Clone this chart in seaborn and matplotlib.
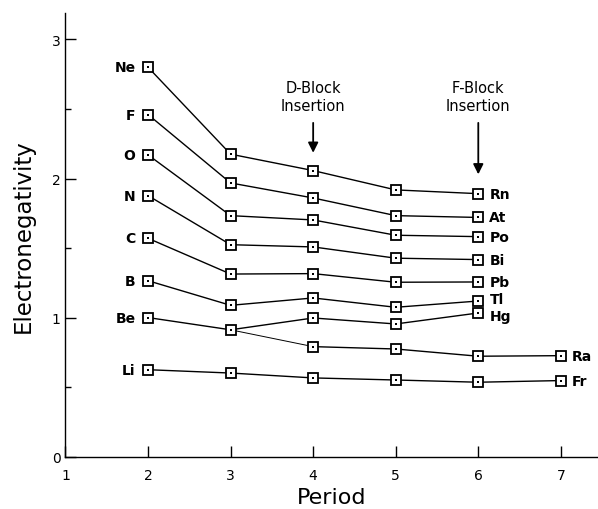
"""
Electronegativity trends by period, with D- and F-block insertion markers.
"""
import matplotlib
matplotlib.use("Agg")
import numpy as np
import pandas as pd
import matplotlib.pyplot as plt
import seaborn as sns

# Group series
ne_rn = [2.80, 2.175, 2.057, 1.918, 1.891]
f_at = [2.46, 1.968, 1.860, 1.733, 1.720]
o_po = [2.17, 1.733, 1.702, 1.592, 1.582]
n_bi = [1.877, 1.524, 1.508, 1.427, 1.417]
c_pb = [1.57, 1.313, 1.316, 1.254, 1.256]
b_tl = [1.265, 1.088, 1.141, 1.074, 1.119]
be_hg = [1.00, 0.912, 0.997, 0.954, 1.033]
ca_ra = [0.791, 0.774, 0.722, 0.726]
li_fr = [0.625, 0.601, 0.566, 0.551, 0.535, 0.547]

p_2to6 = [2, 3, 4, 5, 6]
p_4to7 = [4, 5, 6, 7]
p_2to7 = [2, 3, 4, 5, 6, 7]

series_names = ["Ne-Rn", "F-At", "O-Po", "N-Bi", "C-Pb", "B-Tl", "Be-Hg", "Ca-Ra", "Li-Fr"]
series_values = [ne_rn, f_at, o_po, n_bi, c_pb, b_tl, be_hg, ca_ra, li_fr]
series_periods = [p_2to6, p_2to6, p_2to6, p_2to6, p_2to6, p_2to6, p_2to6, p_4to7, p_2to7]

left_labels = ["Ne", "F", "O", "N", "C", "B", "Be", None, "Li"]
right_labels = ["Rn", "At", "Po", "Bi", "Pb", "Tl", "Hg", "Ra", "Fr"]
# small vertical nudges (points) so the crowded right labels don't collide
right_nudge = [0, 0, 0, 0, 0, 1.5, -2.5, 0, 0]

rows = []
for name, per, vals in zip(series_names, series_periods, series_values):
    for p, v in zip(per, vals):
        rows.append({"series": name, "period": p, "en": v})
df = pd.DataFrame(rows)

sns.set_style("ticks")
plt.rcParams["font.family"] = ["DejaVu Sans"]
plt.rcParams["text.color"] = "black"
plt.rcParams["axes.labelcolor"] = "black"
plt.rcParams["xtick.color"] = "black"
plt.rcParams["ytick.color"] = "black"

fig = plt.figure(figsize=(5.98, 5.10), dpi=100)
ax = fig.add_axes([0.1095, 0.1027, 0.8905, 0.8698])

# thin connector Mg -> Ca
ax.plot([3, p_4to7[0]], [be_hg[1], ca_ra[0]], color="black", lw=0.7, zorder=1)

sns.lineplot(data=df, x="period", y="en", units="series", estimator=None, sort=False,
             color="black", lw=1.0, marker="s", markersize=7,
             markerfacecolor="white", markeredgecolor="black", markeredgewidth=1.3,
             ax=ax, zorder=2)
sns.scatterplot(data=df, x="period", y="en", color="black", marker="s", s=2,
                linewidth=0, ax=ax, zorder=3)

# element labels
for per, vals, lab in zip(series_periods, series_values, left_labels):
    if lab:
        ax.annotate(lab, (per[0], vals[0]), xytext=(-9, 0), textcoords="offset points",
                    ha="right", va="center", fontsize=10, fontweight="bold")
for per, vals, lab, dy in zip(series_periods, series_values, right_labels, right_nudge):
    ax.annotate(lab, (per[-1], vals[-1]), xytext=(8, dy), textcoords="offset points",
                ha="left", va="center", fontsize=10, fontweight="bold")

# block insertion notes
for xp, txt, tip in [(4, "D-Block\nInsertion", 2.165), (6, "F-Block\nInsertion", 2.01)]:
    ax.text(xp, 2.47, txt, ha="center", va="bottom", fontsize=10.5, linespacing=1.3)
    ax.annotate("", xy=(xp, tip), xytext=(xp, 2.42),
                arrowprops=dict(arrowstyle="-|>", color="black", lw=1.3, mutation_scale=15))

ax.set_xlim(1, 7.45)
ax.set_ylim(0, 3.19)
ax.set_xticks([1, 2, 3, 4, 5, 6, 7])
ax.set_yticks([0, 1, 2, 3])
ax.set_yticks([0.5, 1.5, 2.5], minor=True)
ax.tick_params(axis="both", direction="in", length=8, width=1.0, labelsize=10, color="black")
ax.tick_params(axis="x", pad=8)
ax.tick_params(axis="y", which="minor", direction="in", length=4, width=1.0)
ax.set_xlabel("Period", fontsize=16, labelpad=4)
ax.set_ylabel("Electronegativity", fontsize=16.5, labelpad=12)
sns.despine(ax=ax)
for s in ["left", "bottom"]:
    ax.spines[s].set_linewidth(1.0)
    ax.spines[s].set_color("black")

fig.savefig("out.png", dpi=100)
